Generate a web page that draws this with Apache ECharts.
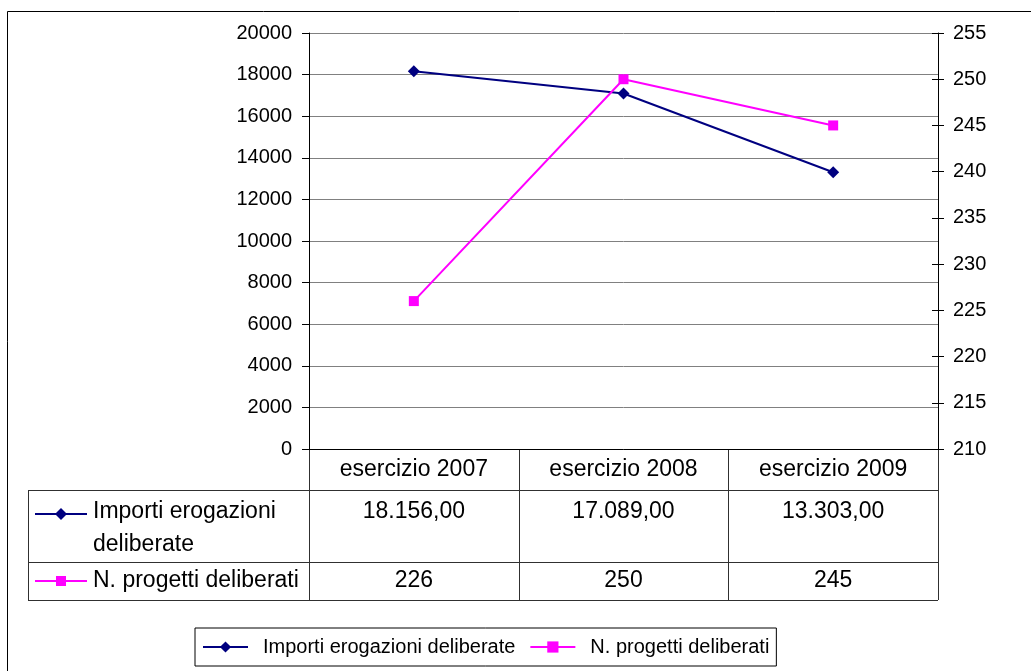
<!DOCTYPE html>
<html><head><meta charset="utf-8">
<script src="https://cdn.jsdelivr.net/npm/echarts@6/dist/echarts.min.js"></script>
<style>html,body{margin:0;padding:0;background:#fff}#c{width:1031px;height:671px}</style>
</head><body><div id="c"></div>
<script>
// ---- data ----
const categories = ['esercizio 2007', 'esercizio 2008', 'esercizio 2009'];
const seriesNames = ['Importi erogazioni deliberate', 'N. progetti deliberati'];
const importi = [18156, 17089, 13303];
const progetti = [226, 250, 245];
const leftAxisMin = 0, leftAxisMax = 20000, leftAxisStep = 2000;
const rightAxisMin = 210, rightAxisMax = 255, rightAxisStep = 5;

// ---- styles / geometry ----
const FONT = '"Liberation Sans", Arial, sans-serif';
const NAVY = '#000080', MAGENTA = '#FF00FF';
const W = 1031, H = 671;
const GL = 309, GR = 938, GT = 33, GB = 449;
const ROW1 = 490, ROW2 = 562, ROW3 = 600, TL = 28;
const colW = (GR - GL) / categories.length;
const LINE = '#303030';
const TFS = 23;

function fmtIt(v) {
  const parts = v.toFixed(2).split('.');
  parts[0] = parts[0].replace(/\B(?=(\d{3})+(?!\d))/g, '.');
  return parts[0] + ',' + parts[1];
}

const chart = echarts.init(document.getElementById('c'), null, {renderer: 'canvas'});

const graphics = [];
// outer border (right/bottom edges off-canvas)
graphics.push({type: 'rect', shape: {x: 7.5, y: 11.5, width: 1200, height: 800},
  style: {fill: 'none', stroke: '#000', lineWidth: 1}, silent: true});
function hline(x1, x2, y) {
  graphics.push({type: 'line', shape: {x1: x1, y1: y + 0.5, x2: x2, y2: y + 0.5}, style: {stroke: LINE, lineWidth: 1}, silent: true});
}
function vline(x, y1, y2) {
  graphics.push({type: 'line', shape: {x1: x + 0.5, y1: y1, x2: x + 0.5, y2: y2}, style: {stroke: LINE, lineWidth: 1}, silent: true});
}
// table grid
for (let i = 0; i <= categories.length; i++) vline(Math.round(GL + colW * i), GB, ROW3);
hline(TL, GR, ROW1); hline(TL, GR, ROW2); hline(TL, GR, ROW3);
vline(TL, ROW1, ROW3);

// table legend keys
function key(y, color, shape) {
  graphics.push({type: 'line', shape: {x1: 35, y1: y, x2: 87, y2: y}, style: {stroke: color, lineWidth: 2}, silent: true});
  if (shape === 'diamond') {
    graphics.push({type: 'polygon', shape: {points: [[61, y - 6], [67, y], [61, y + 6], [55, y]]}, style: {fill: color}, silent: true});
  } else {
    graphics.push({type: 'rect', shape: {x: 56, y: y - 5, width: 10, height: 10}, style: {fill: color}, silent: true});
  }
}
key(514, NAVY, 'diamond');
key(581, MAGENTA, 'rect');
graphics.push({type: 'text', x: 93, y: 528, silent: true,
  style: {text: seriesNames[0], width: 210, overflow: 'break', lineHeight: 33, font: TFS + 'px ' + FONT, fill: '#000', verticalAlign: 'middle', align: 'left'}});
graphics.push({type: 'text', x: 93, y: 581, silent: true,
  style: {text: seriesNames[1], font: TFS + 'px ' + FONT, fill: '#000', verticalAlign: 'middle', align: 'left'}});
// table values
for (let i = 0; i < categories.length; i++) {
  const cx = GL + colW * (i + 0.5);
  graphics.push({type: 'text', x: cx, y: 512, silent: true,
    style: {text: fmtIt(importi[i]), font: TFS + 'px ' + FONT, fill: '#000', align: 'center', verticalAlign: 'middle'}});
  graphics.push({type: 'text', x: cx, y: 581, silent: true,
    style: {text: String(progetti[i]), font: TFS + 'px ' + FONT, fill: '#000', align: 'center', verticalAlign: 'middle'}});
}

const axisLabel = {color: '#000', fontSize: 20, fontFamily: FONT, formatter: function (v) { return String(v); }};

chart.setOption({
  animation: false,
  backgroundColor: '#fff',
  grid: {left: GL, right: W - GR, top: GT, bottom: H - GB, containLabel: false},
  legend: {
    left: 195, top: 628, orient: 'horizontal',
    padding: [9, 7, 9, 7], borderColor: '#000', borderWidth: 1,
    itemWidth: 45, itemHeight: 14, itemGap: 14,
    textStyle: {color: '#000', fontSize: 20, fontFamily: FONT, padding: [0, 0, 0, 10]},
    data: seriesNames
  },
  xAxis: {
    type: 'category', data: categories, boundaryGap: true,
    axisLine: {lineStyle: {color: '#000', width: 1}},
    axisTick: {show: false},
    axisLabel: {color: '#000', fontSize: TFS, fontFamily: FONT, margin: 9, interval: 0},
    splitLine: {show: false}
  },
  yAxis: [
    {type: 'value', position: 'left', min: leftAxisMin, max: leftAxisMax, interval: leftAxisStep,
     axisLine: {show: true, lineStyle: {color: '#000'}},
     axisTick: {show: true, length: 7, lineStyle: {color: '#000'}},
     axisLabel: Object.assign({margin: 17}, axisLabel),
     splitLine: {show: true, lineStyle: {color: '#808080', width: 1}}},
    {type: 'value', position: 'right', min: rightAxisMin, max: rightAxisMax, interval: rightAxisStep,
     axisLine: {show: true, lineStyle: {color: '#000'}},
     axisTick: {show: true, length: 6, lineStyle: {color: '#000'}},
     axisLabel: Object.assign({margin: 15}, axisLabel),
     splitLine: {show: false}},
    {type: 'value', position: 'right', min: rightAxisMin, max: rightAxisMax, interval: rightAxisStep,
     axisLine: {show: false},
     axisTick: {show: true, inside: true, length: 6, lineStyle: {color: '#000'}},
     axisLabel: {show: false},
     splitLine: {show: false}}
  ],
  series: [
    {name: seriesNames[0], type: 'line', yAxisIndex: 0, data: importi,
     symbol: 'diamond', symbolSize: 12, color: NAVY,
     lineStyle: {color: NAVY, width: 2}, itemStyle: {color: NAVY}},
    {name: seriesNames[1], type: 'line', yAxisIndex: 1, data: progetti,
     symbol: 'rect', symbolSize: 10, color: MAGENTA,
     lineStyle: {color: MAGENTA, width: 2}, itemStyle: {color: MAGENTA}}
  ],
  graphic: graphics
});
</script></body></html>
